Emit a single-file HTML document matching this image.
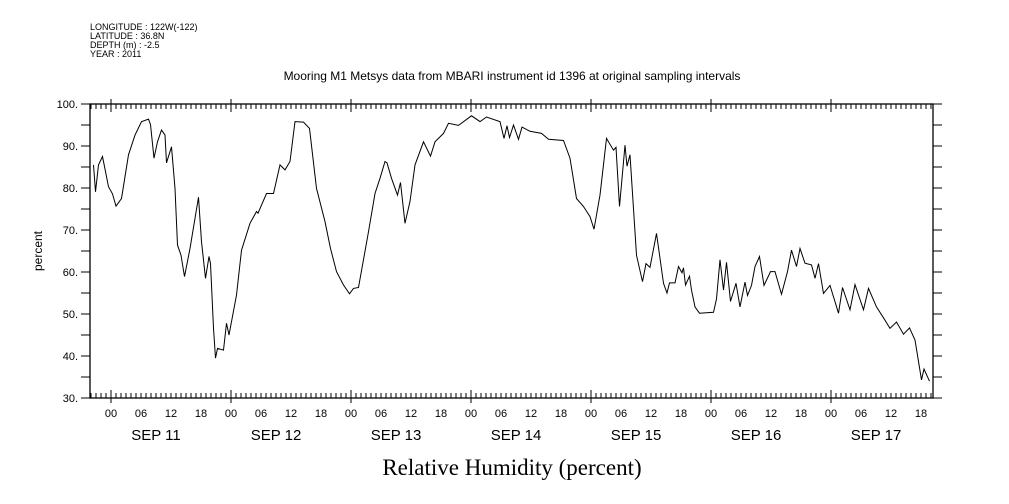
<!DOCTYPE html>
<html><head><meta charset="utf-8"><style>
body{margin:0;background:#fff}
svg{display:block;font-family:"Liberation Sans",sans-serif}
</style></head><body>
<svg id="chart" width="1009" height="504" viewBox="0 0 1009 504">
<g font-size="9" fill="#000">
<text x="90" y="30">LONGITUDE : 122W(-122)</text>
<text x="90" y="39">LATITUDE : 36.8N</text>
<text x="90" y="48">DEPTH (m) : -2.5</text>
<text x="90" y="57">YEAR : 2011</text>
</g>
<text x="512" y="80" font-size="12" text-anchor="middle">Mooring M1 Metsys data from MBARI instrument id 1396 at original sampling intervals</text>
<text transform="translate(42,251) rotate(-90)" font-size="12" text-anchor="middle">percent</text>
<text x="512" y="475" font-size="23" font-family="'Liberation Serif',serif" text-anchor="middle">Relative Humidity (percent)</text>
<g id="axes"></g>
<path id="line" fill="none" stroke="#000" stroke-width="1"/>
</svg>
<script>
const hours=[-3.5,-3.1,-2.5,-1.7,-0.5,0.3,1,2.1,3.5,4.8,6.1,7.5,7.9,8.6,9.3,10.1,10.8,11.1,12.1,12.8,13.3,14,14.7,15.8,17.5,18.1,18.9,19.6,19.9,20.5,20.9,21.3,22.5,23.1,23.6,25.1,26.1,27.8,29.1,29.4,31.1,32.5,33.8,34.8,35.8,36.8,38.5,39.7,41.1,42.8,43.9,45.1,46.5,47.7,48.5,49.5,51.5,52.8,53.8,54.8,55.2,56.1,57.3,57.9,58.8,59.8,60.8,62.5,63.9,64.8,66.5,67.5,69.5,72.1,73.8,75.1,77.8,78.6,79.2,79.7,80.5,81.5,82.2,83.8,86.1,87.5,90.5,91.8,93.1,94.5,95.8,96.6,97.8,99.1,100.5,101,101.7,102.8,103.2,103.8,105.1,106.3,107,107.8,109.1,110.5,111.2,111.7,112.8,113.5,114.2,114.5,114.9,115.7,116.1,116.8,117.7,120.5,121.1,121.8,122.5,123.1,123.9,125,125.8,126.8,127.3,128.1,128.8,129.7,130.6,131.9,132.8,134.1,135.3,136.1,137.1,137.8,138.8,140.1,140.8,141.5,142.5,143.8,145.5,146.3,147.8,148.8,150.5,151.5,153.1,154.5,155.8,157.1,158.5,159.7,160.8,161.5,162.1,162.6,163.7];
const humidity=[85.5,79.1,85.5,87.5,80.3,78.6,75.7,77.5,87.9,92.6,95.8,96.4,95.1,87.1,91,93.8,92.6,86,89.8,79.9,66.4,64,58.9,65.6,77.8,67.2,58.5,63.7,62,46.6,39.5,41.8,41.4,47.8,45,54.5,65.2,71.6,74.4,74,78.7,78.7,85.5,84.3,86.3,95.8,95.7,94.2,79.9,72,65.6,60.1,56.9,54.8,56.1,56.3,69.6,78.7,82.3,86.3,86,82.3,78.3,81.3,71.6,76.8,85.5,91,87.6,91,93,95.4,94.9,97.2,95.8,96.9,95.8,91.8,94.8,92,95,91.6,94.5,93.5,93,91.6,91.3,87.1,77.5,75.6,73.2,70.2,78.3,91.8,89,89.7,75.6,90.2,85.2,87.9,64,57.7,62,61.1,69.2,57.3,55,57.4,57.4,61.3,59.8,61,56.9,59,55.7,51.7,50.2,50.4,53.6,62.9,55.7,62.3,53,57.3,51.7,57.6,54.4,56.8,61.3,63.7,56.8,60.1,60.1,54.7,60.1,65.2,61.3,65.6,62.1,61.7,58.5,62,54.9,56.8,50.2,56.3,51,57,51,56.1,51.7,49.1,46.6,48.1,45.2,46.7,43.8,38.7,34.3,36.9,34];
const yTicks=[30,40,50,60,70,80,90,100];
const dayLabels=["SEP 11","SEP 12","SEP 13","SEP 14","SEP 15","SEP 16","SEP 17"];
const hourLabels=["00","06","12","18"];

const L=90,R=933,T=104,B=398;
const x=h=>111+h*5;
const y=v=>B-(v-30)*(B-T)/70;
const NS="http://www.w3.org/2000/svg";
const ax=document.getElementById('axes');
function mk(tag,attrs,parent){const e=document.createElementNS(NS,tag);for(const k in attrs)e.setAttribute(k,attrs[k]);(parent||ax).appendChild(e);return e;}
const frame=mk('rect',{x:L,y:T,width:R-L,height:B-T,fill:'none',stroke:'#000','stroke-width':1.3});


let d='';
for(let v=30;v<=100;v+=5){const yy=y(v);d+=`M${L-9},${yy}H${L}M${R},${yy}H${R+9}`;}
for(let h=-4;h<=164;h++){const xx=x(h);if(xx<L||xx>R)continue;
 if(h%24===0){d+=`M${xx},${B+5}V${B-8}M${xx},${T-5}V${T+8}`;}
 else{d+=`M${xx},${B}V${B-5}M${xx},${T}V${T+5}`;}}
const tk=mk('path',{d:d,stroke:'#000','stroke-width':1,fill:'none'});


yTicks.forEach(v=>{const t=mk('text',{x:L-12,y:y(v)+4,'font-size':11,'text-anchor':'end'});t.textContent=v+'.';
 
 });
for(let dd=0;dd<7;dd++){
 hourLabels.forEach((hl,i)=>{const h=dd*24+i*6;const t=mk('text',{x:x(h),y:417,'font-size':11,'text-anchor':'middle'});t.textContent=hl;
  
  });
 const t=mk('text',{x:x(dd*24+9),y:440,'font-size':15,'text-anchor':'middle'});t.textContent=dayLabels[dd];
 
 
}
let p=hours.map((h,i)=>(i?'L':'M')+x(h).toFixed(1)+','+y(humidity[i]).toFixed(1)).join('');
document.getElementById('line').setAttribute('d',p);
</script>
</body></html>
